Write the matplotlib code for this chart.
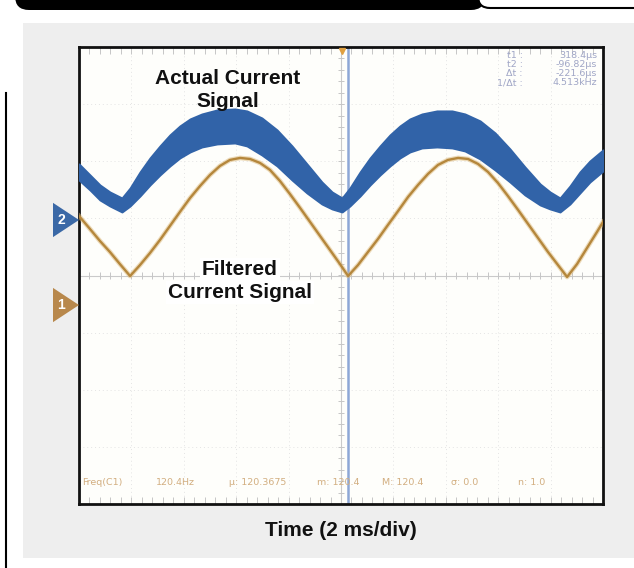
import matplotlib
matplotlib.use("Agg")
import matplotlib.pyplot as plt
import matplotlib.transforms as mtransforms
from matplotlib.patches import Rectangle, Polygon, FancyBboxPatch
from matplotlib.collections import LineCollection
import numpy as np

W, H = 634, 568

# ---- data (time in ms, amplitude in screen divisions) ----
filt_t = [0.00, 0.42, 0.80, 1.18, 1.56, 1.95, 2.33, 2.71, 3.09, 3.47, 3.85, 4.24, 4.62, 5.00,
          5.38, 5.76, 6.15, 6.53, 6.91, 7.29, 7.67, 8.05, 8.44, 8.82, 9.20, 9.58, 9.96, 10.27,
          10.65, 11.03, 11.41, 11.79, 12.18, 12.56, 12.94, 13.32, 13.70, 14.08, 14.47, 14.85,
          15.23, 15.61, 15.99, 16.37, 16.76, 17.14, 17.52, 17.90, 18.28, 18.63, 19.01, 19.39,
          19.77, 20.00]
filt_v = [1.042, 0.814, 0.604, 0.412, 0.201, -0.009, 0.184, 0.394, 0.622, 0.867, 1.112, 1.357,
          1.567, 1.760, 1.918, 2.023, 2.058, 2.040, 1.970, 1.848, 1.655, 1.427, 1.182, 0.937,
          0.692, 0.447, 0.201, -0.009, 0.184, 0.412, 0.639, 0.884, 1.130, 1.375, 1.585, 1.778,
          1.935, 2.023, 2.058, 2.040, 1.953, 1.813, 1.620, 1.392, 1.147, 0.902, 0.657, 0.412,
          0.184, -0.026, 0.201, 0.482, 0.762, 0.937]

act_t = [0.00, 0.42, 0.80, 1.18, 1.64, 1.95, 2.33, 2.71, 3.09, 3.47, 3.85, 4.24, 4.69, 5.27,
         5.95, 6.41, 6.98, 7.56, 8.13, 8.70, 9.27, 9.66, 10.04, 10.34, 10.73, 11.11, 11.49,
         11.87, 12.25, 12.63, 13.09, 13.66, 14.24, 14.73, 15.31, 15.88, 16.45, 17.02, 17.60,
         17.98, 18.36, 18.74, 19.12, 19.50, 20.00]
act_top = [1.953, 1.760, 1.585, 1.462, 1.357, 1.532, 1.813, 2.058, 2.268, 2.461, 2.618, 2.741,
           2.828, 2.898, 2.916, 2.881, 2.758, 2.548, 2.268, 1.953, 1.637, 1.462, 1.357, 1.532,
           1.813, 2.058, 2.268, 2.461, 2.618, 2.741, 2.828, 2.881, 2.881, 2.828, 2.706, 2.496,
           2.215, 1.900, 1.602, 1.462, 1.357, 1.567, 1.813, 2.005, 2.198]
act_bot = [1.672, 1.497, 1.322, 1.217, 1.112, 1.217, 1.392, 1.585, 1.760, 1.918, 2.058, 2.163,
           2.250, 2.303, 2.320, 2.268, 2.110, 1.918, 1.672, 1.445, 1.252, 1.165, 1.112, 1.217,
           1.392, 1.585, 1.760, 1.918, 2.058, 2.163, 2.233, 2.250, 2.233, 2.180, 2.040, 1.848,
           1.637, 1.410, 1.235, 1.165, 1.112, 1.252, 1.445, 1.637, 1.830]

cursor_t = 10.27
channel_names = ["2", "1"]
channel_levels = [0.972, -0.517]
channel_colors = ["#3a68a6", "#b8884c"]

readout_labels = ["t1 :", "t2 :", "\u0394t :", "1/\u0394t :"]
readout_values = ["318.4\u00b5s", "-96.82\u00b5s", "-221.6\u00b5s", "4.513kHz"]
stats_labels = ["Freq(C1)", "120.4Hz", "\u00b5: 120.3675", "m: 120.4", "M: 120.4",
                "\u03c3: 0.0", "n: 1.0"]
stats_x = [0.11, 2.94, 5.73, 9.08, 11.56, 14.2, 16.76]

BLUE = "#3163a8"
ORANGE = "#b5873c"

fig = plt.figure(figsize=(W / 100, H / 100), dpi=100)
fig.patch.set_facecolor("white")
px = mtransforms.Affine2D().scale(1 / W, -1 / H).translate(0, 1) + fig.transFigure

# header and panel decorations
fig.patches.append(FancyBboxPatch((15, -40), 470, 50, boxstyle="round,pad=0,rounding_size=14",
                                  transform=px, fc="black", ec="none", zorder=-3))
fig.patches.append(FancyBboxPatch((478, -40), 200, 48, boxstyle="round,pad=0,rounding_size=12",
                                  transform=px, fc="white", ec="black", lw=1.5, zorder=-2))
fig.patches.append(Rectangle((23, 23), 611, 535, transform=px, fc="#eeeeee", ec="none", zorder=-3))
fig.lines.append(plt.Line2D([5.5, 5.5], [93, 568], transform=px, color="black", lw=1.5, zorder=-1))

ax = fig.add_axes([79 / W, 1 - 504 / H, 524 / W, 457 / H])
ax.set_zorder(1)
ax.set_facecolor("#fefefb")
ax.set_xlim(0, 20)
ax.set_ylim(-4, 4)
ax.set_xticks([])
ax.set_yticks([])
for s in ax.spines.values():
    s.set_linewidth(2)
    s.set_color("#111111")

# graticule
for k in range(1, 10):
    ax.axvline(2 * k, color="#e4e4e4", lw=0.7, ls=(0, (1, 3)), zorder=0.5)
for k in range(-3, 4):
    ax.axhline(k, color="#e4e4e4", lw=0.7, ls=(0, (1, 3)), zorder=0.5)
ax.axhline(0, color="#cacaca", lw=0.8, zorder=0.6)
ax.axvline(10, color="#cacaca", lw=0.8, zorder=0.6)
segs = []
for t in np.arange(0.4, 20, 0.4):
    segs.append([(t, -0.07), (t, 0.07)])
    segs.append([(t, -4), (t, -3.88)])
    segs.append([(t, 4), (t, 3.88)])
for v in np.arange(-3.8, 4, 0.2):
    segs.append([(9.87, v), (10.13, v)])
ax.add_collection(LineCollection(segs, colors="#c6c6c6", lw=0.7, zorder=0.6))

# cursor
ax.axvline(cursor_t, color="#8da7d6", lw=1.8, zorder=1.5)

# traces
ax.fill_between(act_t, act_bot, act_top, color=BLUE, lw=1.4, edgecolor=BLUE, zorder=3)
ax.plot(filt_t, filt_v, color="#dcb878", lw=3.4, alpha=0.5, zorder=3.5)
ax.plot(filt_t, filt_v, color=ORANGE, lw=1.7, zorder=4)
ax.plot([10.05], [3.93], marker="v", ms=4, color="#e0a040", clip_on=False, zorder=5)

# readouts
for i, (lab, val) in enumerate(zip(readout_labels, readout_values)):
    y = 55 + 9.3 * i
    fig.text(523 / W, 1 - y / H, lab, ha="right", va="center", fontsize=6.8,
             color="#a0a6c6", family="DejaVu Sans", zorder=5)
    fig.text(597 / W, 1 - y / H, val, ha="right", va="center", fontsize=6.8,
             color="#a0a6c6", family="DejaVu Sans", zorder=5)
for x, lab in zip(stats_x, stats_labels):
    ax.text(x, -3.63, lab, ha="left", va="center", fontsize=6.8, color="#d2ae80",
            family="DejaVu Sans", zorder=5)

# channel markers
blend = mtransforms.blended_transform_factory(px, ax.transData)
for name, lev, col in zip(channel_names, channel_levels, channel_colors):
    tri = Polygon([(53, lev + 0.3), (53, lev - 0.3), (79, lev)], closed=True,
                  transform=blend, fc=col, ec="none", clip_on=False, zorder=6)
    ax.add_patch(tri)
    ax.text(61, lev, name, transform=blend, ha="center", va="center", fontsize=10,
            fontweight="bold", color="white", family="Liberation Sans", clip_on=False, zorder=7)

# annotations
lab_kw = dict(ha="center", va="baseline", fontsize=15, fontweight="bold",
              family="Liberation Sans", color="#111111", zorder=10)
box = dict(fc="white", ec="none", pad=1.5)
fig.text(228 / W, 1 - 84 / H, "Actual Current", **lab_kw)
fig.text(228 / W, 1 - 107 / H, "Signal", **lab_kw)
fig.text(240 / W, 1 - 275 / H, "Filtered", bbox=box, **lab_kw)
fig.text(240 / W, 1 - 298 / H, "Current Signal", bbox=box, **lab_kw)
fig.text(341 / W, 1 - 536 / H, "Time (2 ms/div)", **lab_kw)

fig.savefig("out.png", dpi=100)
